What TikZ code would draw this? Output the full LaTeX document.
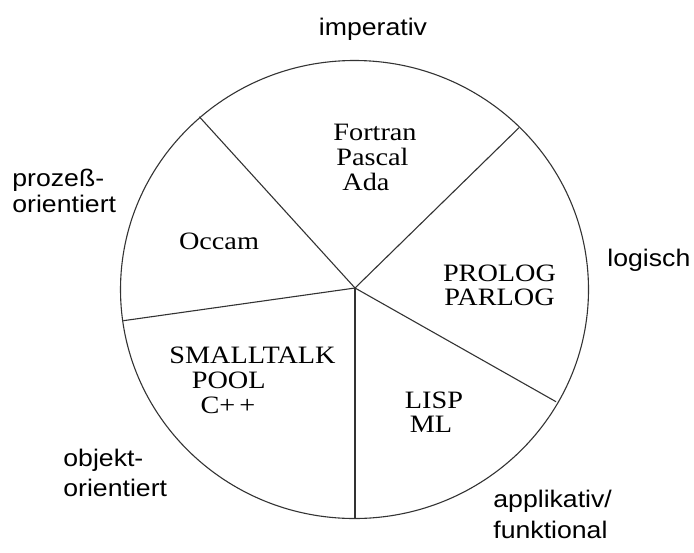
\documentclass[tikz,border=0pt]{standalone}
\usepackage{fontspec}
\setmainfont[FakeStretch=1.13]{Liberation Serif}
\newfontfamily\labelfont[FakeStretch=1.11]{Liberation Sans}
\begin{document}
\begin{tikzpicture}[x=0.5pt,y=-0.5pt,
  lang/.style={font=\fontsize{12.5}{12.5}\selectfont, inner sep=0pt, anchor=base, text=black},
  cat/.style={font=\labelfont\fontsize{12}{12}\selectfont, inner sep=0pt, anchor=base west, text=black},
  rim/.style={line width=0.55pt, draw=black!80}]
\useasboundingbox (0,0) rectangle (694,552);

% the wheel and its five spokes
\coordinate (hub) at (355,288);
\coordinate (sUL) at (199.3,116.7);
\coordinate (sUR) at (519,127.7);
\coordinate (sL)  at (123.3,320.7);
\coordinate (sB)  at (355,518.3);
\coordinate (sLR) at (556,401.7);
\draw[rim] (354.5,289.5) ellipse [x radius=234, y radius=229];
\draw[rim] (hub) -- (sUL);
\draw[rim] (hub) -- (sUR);
\draw[rim] (hub) -- (sL);
\draw[rim] (hub) -- (sB);
\draw[rim] (hub) -- (sLR);

% languages in each sector
\node[lang] (fortran) at (375,140) {Fortran};
\node[lang] (pascal)  at (372.5,165) {Pascal};
\node[lang] (ada)     at (366,190) {Ada};
\node[lang] (occam)   at (219,249) {Occam};
\node[lang] (prolog)  at (499.5,281) {PROLOG};
\node[lang] (parlog)  at (499.5,305) {PARLOG};
\node[lang] (smalltalk) at (252.5,363) {SMALLTALK};
\node[lang] (pool)    at (228.7,388) {POOL};
\node[lang] (cpp)     at (228,413) {C+\,+};
\node[lang] (lisp)    at (434,408) {LISP};
\node[lang] (ml)      at (431,432) {ML};

% paradigm names around the wheel
\node[cat, anchor=base] (imp) at (373,35) {imperativ};
\node[cat] (proz1) at (12,186) {prozeß-};
\node[cat] (proz2) at (12,212) {orientiert};
\node[cat] (log)   at (607,266) {logisch};
\node[cat] (obj1)  at (63,466) {objekt-};
\node[cat] (obj2)  at (63,496) {orientiert};
\node[cat] (app1)  at (493,507) {applikativ/};
\node[cat] (app2)  at (493,538) {funktional};
\end{tikzpicture}
\end{document}
